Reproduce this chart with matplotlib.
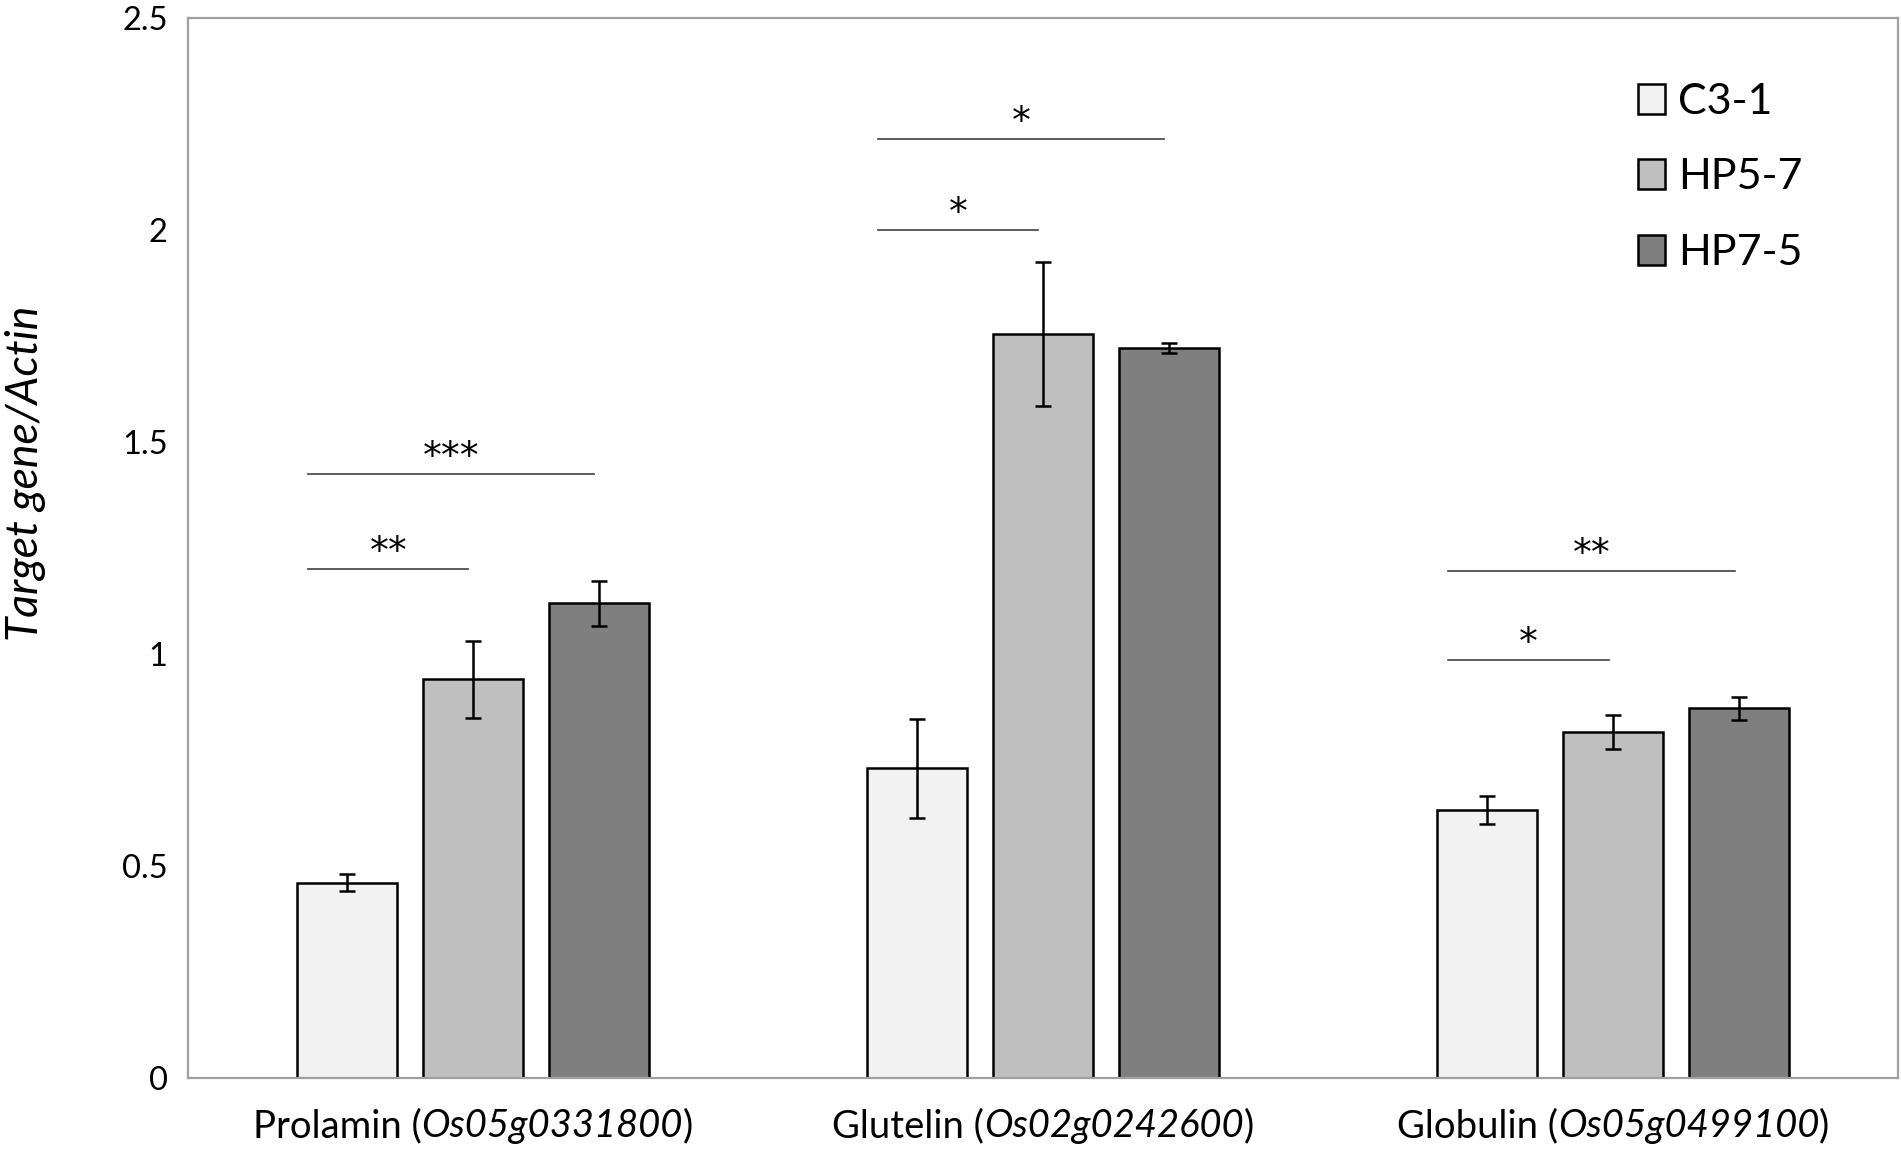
import matplotlib
matplotlib.use("Agg")
import matplotlib.pyplot as plt
import matplotlib.transforms as mtransforms
import numpy as np

plt.rcParams['font.family'] = ['Lato', 'DejaVu Sans']

# data
genes = ['Prolamin', 'Glutelin', 'Globulin']
gene_ids = ['Os05g0331800', 'Os02g0242600', 'Os05g0499100']
lines = ['C3-1', 'HP5-7', 'HP7-5']
colors = ['#f2f2f2', '#bfbfbf', '#7f7f7f']

c31 = [0.46, 0.73, 0.632]
hp57 = [0.94, 1.756, 0.815]
hp75 = [1.12, 1.722, 0.872]
c31_err = [0.02, 0.117, 0.033]
hp57_err = [0.09, 0.17, 0.04]
hp75_err = [0.053, 0.011, 0.027]

# significance: (group, compared line index, y of line, label)
sig_marks = [
    (0, 1, 1.20, '**'),
    (0, 2, 1.425, '***'),
    (1, 1, 2.00, '*'),
    (1, 2, 2.215, '*'),
    (2, 1, 0.985, '*'),
    (2, 2, 1.195, '**'),
]

values = [c31, hp57, hp75]
errors = [c31_err, hp57_err, hp75_err]

fig = plt.figure(figsize=(19.02, 11.49), dpi=100)
ax = fig.add_axes([0.0988, 0.062, 0.8992, 0.922])

x = np.arange(len(genes))
step = 0.221
width = 0.1745
for i, (vals, errs) in enumerate(zip(values, errors)):
    pos = x + (i - 1) * step
    ax.bar(pos, vals, width=width, color=colors[i], edgecolor='black',
           linewidth=1.8, label=lines[i], zorder=2)
    ax.errorbar(pos, vals, yerr=errs, fmt='none', ecolor='black',
                elinewidth=1.8, capsize=5.5, capthick=1.8, zorder=3)

for g, k, yv, lab in sig_marks:
    x0 = g - step - 0.068
    x1 = g + (k - 1) * step - 0.008
    ax.plot([x0, x1], [yv, yv], color='#404040', lw=1.2, zorder=3)
    ax.text((x0 + x1) / 2, yv + 0.015, lab, ha='center', va='baseline',
            fontsize=27, family='DejaVu Sans', color='black')

ax.set_xlim(-0.5, 2.5)
ax.set_ylim(0, 2.5)
ax.set_yticks([0, 0.5, 1, 1.5, 2, 2.5])
ax.set_yticklabels(['0', '0.5', '1', '1.5', '2', '2.5'])
ax.set_xticks(x)
ax.set_xticklabels([])
ax.tick_params(axis='both', length=0, labelsize=23.5, colors='black')
ax.tick_params(axis='y', pad=14.5)
for s in ax.spines.values():
    s.set_color('#a0a0a0')
    s.set_linewidth(1.6)

ax.set_ylabel('Target gene/Actin', fontsize=32, fontstyle='italic')
ax.yaxis.set_label_coords(-0.083, 0.571)

ax.legend(loc='upper left', bbox_to_anchor=(0.861, 0.928),
          bbox_transform=fig.transFigure, frameon=False, fontsize=31,
          handlelength=0.64, handleheight=0.7, handletextpad=0.3,
          labelspacing=0.87, borderpad=0, borderaxespad=0)

# category labels: roman name + italic gene id
fig.canvas.draw()
renderer = fig.canvas.get_renderer()
label_fs = 27.5
label_y = -0.056
base = mtransforms.blended_transform_factory(ax.transData, ax.transAxes)
for g, (name, gid) in enumerate(zip(genes, gene_ids)):
    parts = [(name + ' (', 'normal'), (gid, 'italic'), (')', 'normal')]
    widths = []
    for txt, st in parts:
        t = ax.text(0, 0, txt, fontsize=label_fs, fontstyle=st)
        widths.append(t.get_window_extent(renderer).width)
        t.remove()
    total = sum(widths)
    offset = -total / 2
    for (txt, st), w in zip(parts, widths):
        tr = mtransforms.offset_copy(base, fig=fig, x=offset * 72 / fig.dpi,
                                     y=0, units='points')
        ax.text(g, label_y, txt, fontsize=label_fs, fontstyle=st,
                ha='left', va='baseline', transform=tr, clip_on=False)
        offset += w

fig.savefig('out.png', dpi=100)
